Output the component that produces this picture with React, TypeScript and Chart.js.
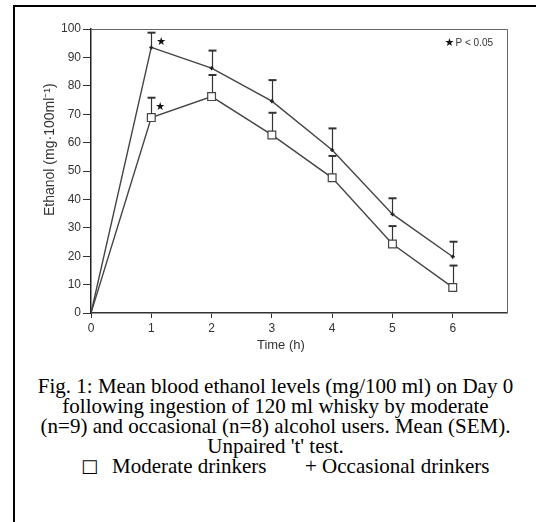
import React, { useEffect, useRef } from "react";
import { Chart, registerables } from "chart.js";

Chart.register(...registerables);

// ---- data ----
const hours = [0, 1, 2, 3, 4, 5, 6];
const moderateMean = [0, 68.8, 76.2, 62.7, 47.6, 24.3, 9.0];
const moderateSem = [0, 7.0, 7.6, 7.8, 7.7, 6.3, 7.7];
const occasionalMean = [0, 93.5, 86.2, 74.6, 57.4, 34.8, 19.8];
const occasionalSem = [0, 5.2, 6.2, 7.4, 7.6, 5.6, 5.3];
const significantHours = [1];
const xTickMax = 6;
const yTickStep = 10;

const yTitle = "Ethanol (mg\u00b7100ml\u207b\u00b9)";
const xTitle = "Time (h)";
const sigLabel = "P < 0.05";
const captionLines = [
  "Fig. 1: Mean blood ethanol levels (mg/100 ml) on Day 0",
  "following ingestion of 120 ml whisky by moderate",
  "(n=9) and occasional (n=8) alcohol users. Mean (SEM).",
  "Unpaired 't' test.",
];
const legendModerate = "Moderate drinkers";
const legendOccasional = "+ Occasional drinkers";

const INK = "#333";
const SANS = '"Liberation Sans", Arial, sans-serif';

const semSets = [moderateSem, occasionalSem];
const meanSets = [moderateMean, occasionalMean];
const starOffsets = [
  { dx: 9, dy: -10 },
  { dx: 10, dy: -5 },
];

const decorPlugin = {
  id: "decor",
  beforeDatasetsDraw(chart: any) {
    const ctx = chart.ctx;
    const ys = chart.scales.y;
    ctx.save();
    ctx.strokeStyle = INK;
    semSets.forEach((sem, di) => {
      const meta = chart.getDatasetMeta(di);
      sem.forEach((s, i) => {
        if (!s) return;
        const pt = meta.data[i];
        const x = Math.round(pt.x) + 0.5;
        const yTop = ys.getPixelForValue(meanSets[di][i] + s);
        ctx.lineWidth = 1.2;
        ctx.beginPath();
        ctx.moveTo(x, pt.y);
        ctx.lineTo(x, yTop);
        ctx.stroke();
        ctx.lineWidth = 2;
        ctx.beginPath();
        ctx.moveTo(x - 4, yTop);
        ctx.lineTo(x + 4, yTop);
        ctx.stroke();
      });
    });
    ctx.restore();
  },
  afterDatasetsDraw(chart: any) {
    const ctx = chart.ctx;
    ctx.save();
    ctx.fillStyle = "#111";
    ctx.font = '11px "DejaVu Sans", sans-serif';
    ctx.textAlign = "center";
    ctx.textBaseline = "middle";
    significantHours.forEach((h) => {
      const idx = hours.indexOf(h);
      meanSets.forEach((_, di) => {
        const pt = chart.getDatasetMeta(di).data[idx];
        ctx.fillText("\u2605", pt.x + starOffsets[di].dx, pt.y + starOffsets[di].dy);
      });
    });
    ctx.restore();
  },
  afterDraw(chart: any) {
    const ctx = chart.ctx;
    const a = chart.chartArea;
    const xs = chart.scales.x;
    const h = a.bottom - a.top;
    ctx.save();
    // top & right frame of the plot
    ctx.strokeStyle = "#666";
    ctx.lineWidth = 1;
    ctx.beginPath();
    ctx.moveTo(a.left, a.top + 0.5);
    ctx.lineTo(a.right + 0.5, a.top + 0.5);
    ctx.lineTo(a.right + 0.5, a.bottom);
    ctx.stroke();
    // significance key
    ctx.fillStyle = INK;
    ctx.font = "10px " + SANS;
    ctx.textAlign = "right";
    ctx.textBaseline = "middle";
    const kx = a.right - 14;
    const ky = a.top + 14;
    ctx.fillText(sigLabel, kx, ky);
    const w = ctx.measureText(sigLabel).width;
    ctx.fillStyle = "#111";
    ctx.font = '11px "DejaVu Sans", sans-serif';
    ctx.textAlign = "center";
    ctx.fillText("\u2605", kx - w - 6, ky);
    // x axis title
    ctx.fillStyle = INK;
    ctx.font = "13px " + SANS;
    ctx.textAlign = "center";
    ctx.textBaseline = "middle";
    ctx.fillText(xTitle, xs.getPixelForValue(xTickMax / 2) + 9, a.bottom + 32);
    // y axis title: spans from 34% to 81% of the plot height
    const y0 = a.bottom - 0.34 * h;
    const y1 = a.bottom - 0.81 * h;
    ctx.font = "14px " + SANS;
    const w14 = ctx.measureText(yTitle).width;
    const fs = Math.min(14, (14 * (y0 - y1)) / w14);
    ctx.font = fs.toFixed(2) + "px " + SANS;
    ctx.translate(50, (y0 + y1) / 2);
    ctx.rotate(-Math.PI / 2);
    ctx.fillText(yTitle, 0, 0);
    ctx.restore();
  },
};

function EthanolChart() {
  const ref = useRef<HTMLCanvasElement | null>(null);
  useEffect(() => {
    if (!ref.current) return;
    const chart = new Chart(ref.current, {
      type: "line",
      data: {
        datasets: [
          {
            label: "Moderate drinkers",
            data: hours.map((h, i) => ({ x: h, y: moderateMean[i] })),
            borderColor: "#444",
            borderWidth: 1.4,
            pointStyle: "rect",
            pointRadius: (c: any) => (c.dataIndex === 0 ? 0 : 5.5),
            pointBackgroundColor: "#fff",
            pointBorderColor: "#444",
            pointBorderWidth: 1.2,
            tension: 0,
          },
          {
            label: "Occasional drinkers",
            data: hours.map((h, i) => ({ x: h, y: occasionalMean[i] })),
            borderColor: "#444",
            borderWidth: 1.4,
            pointStyle: "cross",
            pointRadius: (c: any) => (c.dataIndex === 0 ? 0 : 2),
            pointBorderColor: "#222",
            pointBorderWidth: 1.5,
            tension: 0,
          },
        ],
      },
      options: {
        animation: false,
        responsive: false,
        layout: { padding: { top: 29, right: 29, left: 0, bottom: 0 } },
        plugins: { legend: { display: false }, tooltip: { enabled: false } },
        scales: {
          x: {
            type: "linear",
            min: 0,
            max: 6.9,
            afterFit: (s: any) => {
              s.height = 52;
            },
            ticks: {
              stepSize: 1,
              includeBounds: false,
              padding: 3,
              color: INK,
              font: { family: SANS, size: 12 },
              callback: (v: any) => (v <= xTickMax ? String(v) : ""),
            },
            grid: { display: true, drawOnChartArea: false, tickLength: 5, color: INK, lineWidth: 1 },
            border: { display: true, color: INK, width: 1.5 },
          },
          y: {
            min: 0,
            max: 100,
            afterFit: (s: any) => {
              s.width = 91;
            },
            ticks: {
              stepSize: yTickStep,
              padding: 2,
              color: INK,
              font: { family: SANS, size: 12 },
            },
            grid: { display: true, drawOnChartArea: false, tickLength: 8, color: INK, lineWidth: 1 },
            border: { display: true, color: "#222", width: 1.5 },
          },
        },
      },
      plugins: [decorPlugin],
    });
    return () => chart.destroy();
  }, []);
  return (
    <canvas
      ref={ref}
      width={536}
      height={365}
      style={{ position: "absolute", left: 0, top: 0, width: 536, height: 365 }}
    />
  );
}

export default function App() {
  const serif = '"Liberation Serif", "Times New Roman", serif';
  return (
    <div style={{ position: "absolute", left: 0, top: 0, width: 536, height: 522, background: "#fff", overflow: "hidden" }}>
      <div
        style={{
          position: "absolute",
          left: 13,
          top: 5,
          right: -5,
          bottom: -5,
          borderTop: "2px solid #000",
          borderLeft: "2px solid #000",
        }}
      />
      <EthanolChart />
      <div
        style={{
          position: "absolute",
          left: 15,
          width: 521,
          top: 376,
          fontFamily: serif,
          fontSize: 21,
          lineHeight: "20px",
          textAlign: "center",
          color: "#000",
        }}
      >
        {captionLines.map((l, i) => (
          <div key={i}>{l}</div>
        ))}
        <div style={{ position: "relative", height: 20 }}>
          <span style={{ position: "absolute", left: 66, top: 0, fontFamily: '"DejaVu Sans", sans-serif', fontSize: 18 }}>
            {"\u25a1"}
          </span>
          <span style={{ position: "absolute", left: 97, top: 0, whiteSpace: "nowrap" }}>{legendModerate}</span>
          <span style={{ position: "absolute", left: 290, top: 0, whiteSpace: "nowrap" }}>{legendOccasional}</span>
        </div>
      </div>
    </div>
  );
}
